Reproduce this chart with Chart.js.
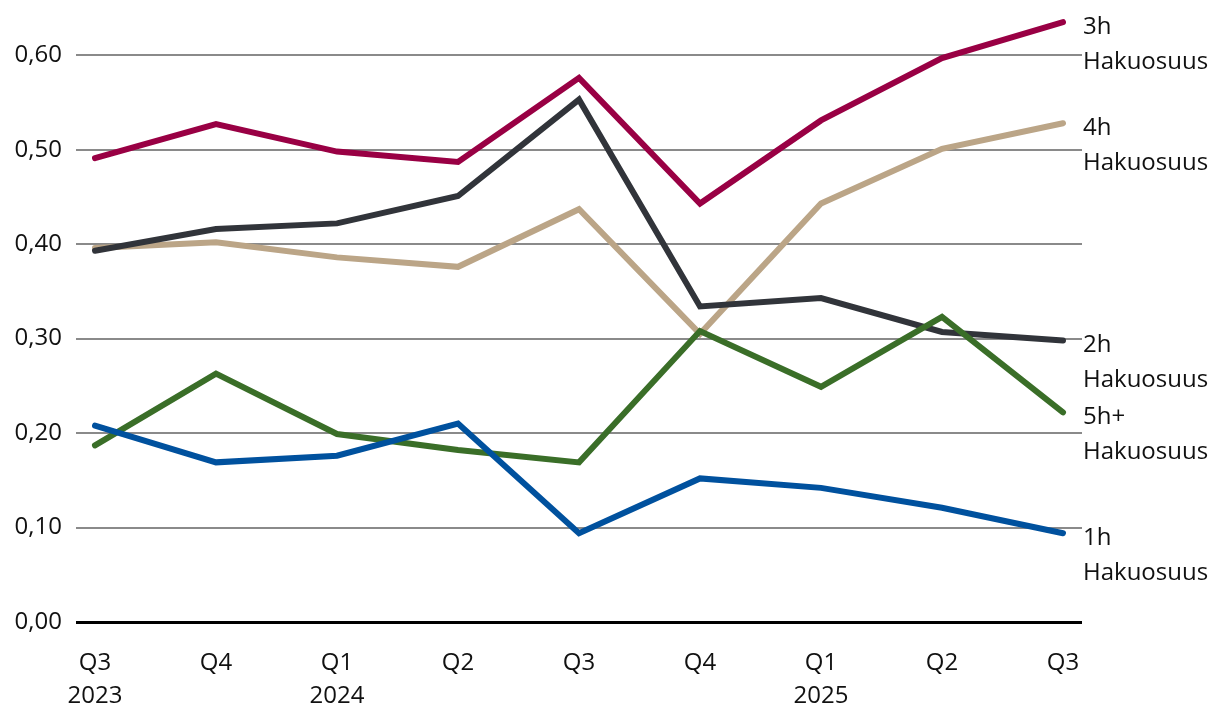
<!DOCTYPE html>
<html>
<head>
<meta charset="utf-8">
<script src="https://cdn.jsdelivr.net/npm/chart.js@4"></script>
<style>
  html, body { margin: 0; padding: 0; background: #fff; }
  #wrap { width: 1220px; height: 720px; }
</style>
</head>
<body>
<div id="wrap"><canvas id="myChart" width="1220" height="720"></canvas></div>
<script>
// quarters on the x axis
var quarters = [['Q3', '2023'], ['Q4'], ['Q1', '2024'], ['Q2'], ['Q3'], ['Q4'], ['Q1', '2025'], ['Q2'], ['Q3']];

// hakuosuus by household size
var h1  = [0.208, 0.169, 0.176, 0.210, 0.094, 0.152, 0.142, 0.121, 0.094];
var h2  = [0.393, 0.416, 0.422, 0.451, 0.553, 0.334, 0.343, 0.307, 0.298];
var h3  = [0.491, 0.527, 0.498, 0.487, 0.576, 0.443, 0.531, 0.597, 0.635];
var h4  = [0.396, 0.402, 0.386, 0.376, 0.437, 0.305, 0.443, 0.501, 0.528];
var h5  = [0.187, 0.263, 0.199, 0.182, 0.169, 0.308, 0.249, 0.323, 0.222];

var seriesNames = ['1h', '5h+', '2h', '4h', '3h'];
var yTicks = [0, 0.1, 0.2, 0.3, 0.4, 0.5, 0.6];
var Y_MAX = 0.65;

var FONT = '"Open Sans", "Noto Sans", sans-serif';

function toPoints(arr) {
	return arr.map(function(v, i) { return { x: i, y: v }; });
}

function line(label, arr, color) {
	return {
		label: label,
		data: toPoints(arr),
		borderColor: color,
		backgroundColor: color,
		borderWidth: 6,
		borderCapStyle: 'round',
		borderJoinStyle: 'miter',
		pointRadius: 0,
		tension: 0
	};
}

// end labels to the right of every line
var endLabels = {
	id: 'endLabels',
	afterDatasetsDraw: function(chart) {
		var ctx = chart.ctx;
		var area = chart.chartArea;
		ctx.save();
		ctx.font = '24px ' + FONT;
		ctx.fillStyle = '#111';
		ctx.textAlign = 'left';
		ctx.textBaseline = 'middle';
		chart.data.datasets.forEach(function(ds, i) {
			var meta = chart.getDatasetMeta(i);
			var pt = meta.data[meta.data.length - 1];
			ctx.fillText(ds.label, area.right + 1, pt.y + 5);
			ctx.fillText('Hakuosuus', area.right + 1, pt.y + 40);
		});
		ctx.restore();
	}
};

var ctx = document.getElementById('myChart').getContext('2d');
new Chart(ctx, {
	type: 'line',
	data: {
		datasets: [
			line(seriesNames[0], h1, '#00519e'),
			line(seriesNames[1], h5, '#3a6e28'),
			line(seriesNames[2], h2, '#31343a'),
			line(seriesNames[3], h4, '#bba587'),
			line(seriesNames[4], h3, '#990044')
		]
	},
	options: {
		responsive: false,
		animation: false,
		layout: { padding: { left: 0, right: 138, top: 8, bottom: 0 } },
		plugins: {
			legend: { display: false },
			tooltip: { enabled: false }
		},
		scales: {
			x: {
				type: 'linear',
				min: -0.157,
				max: quarters.length - 1 + 0.157,
				afterBuildTicks: function(axis) {
					axis.ticks = quarters.map(function(q, i) { return { value: i }; });
				},
				afterFit: function(axis) { axis.height = 98; },
				grid: { display: false, drawTicks: false },
				border: { display: false },
				ticks: {
					padding: 24,
					color: '#111',
					maxRotation: 0,
					autoSkip: false,
					font: { family: FONT, size: 24, lineHeight: 1.4 },
					callback: function(v) { return quarters[v]; }
				}
			},
			y: {
				min: 0,
				max: Y_MAX,
				afterBuildTicks: function(axis) {
					axis.ticks = yTicks.map(function(v) { return { value: v }; });
				},
				afterFit: function(axis) {
					axis.width = 76;
					axis.paddingTop = 0;
				},
				border: { display: false },
				grid: {
					drawTicks: false,
					color: function(c) { return c.tick && c.tick.value === 0 ? '#000' : '#8a8a8a'; },
					lineWidth: function(c) { return c.tick && c.tick.value === 0 ? 3 : 2; }
				},
				ticks: {
					padding: 14,
					color: '#111',
					font: { family: FONT, size: 24 },
					callback: function(v) { return v.toFixed(2).replace('.', ','); }
				}
			}
		}
	},
	plugins: [endLabels]
});
</script>
</body>
</html>
